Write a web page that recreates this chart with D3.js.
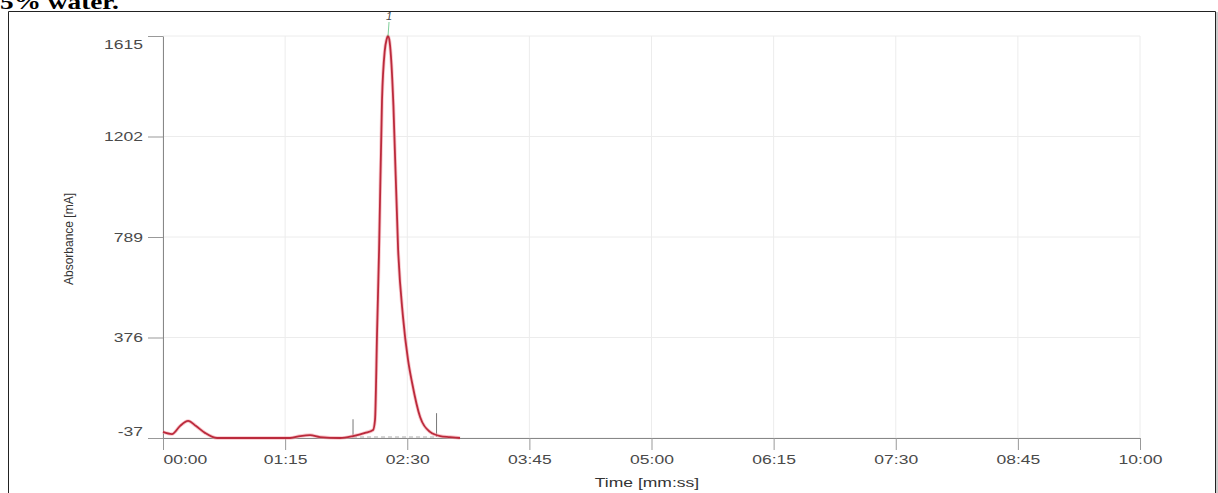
<!DOCTYPE html>
<html>
<head>
<meta charset="utf-8">
<script src="https://cdn.jsdelivr.net/npm/d3@7"></script>
<style>
  body { margin: 0; background: #fff; }
  svg { display: block; }
  .tick text { font-family: Arial, "Liberation Sans", sans-serif; font-size: 12.5px; fill: #4a4a4a; }
</style>
</head>
<body>
<div class="chart"></div>
<script>
// data (time in seconds, absorbance in mA)
var timeVals = [0, 5.5, 10.4, 15.4, 20.3, 25.8, 33.2, 78, 84.2, 90.3, 96.4, 108.7, 116.7, 124.1, 129, 130.2, 131.5, 132.7, 134.5, 136.2, 137.3, 138.2, 139.2, 140.3, 141.5, 144.4, 147.4, 150.5, 153, 157.9, 164, 170.2, 176.3, 182.4];
var absVals = [-12, -21, 12, 33, 12, -16, -37, -37, -29, -25, -33, -37, -29, -16, -4, 37, 407, 736, 1352, 1555, 1600, 1615, 1590, 1500, 1330, 736, 460, 283, 189, 49, -12, -29, -33, -37];
var xTickVals = [0, 75, 150, 225, 300, 375, 450, 525, 600];
var xTickLabels = ["00:00", "01:15", "02:30", "03:45", "05:00", "06:15", "07:30", "08:45", "10:00"];
var yTickVals = [-37, 376, 789, 1202, 1615];
var peakMarks = [116.7, 168];   // integration start / end
var peakTime = 138.2;
var peakLabel = "1";

var svgWidth = 1218;
var svgHeight = 493;
var margin = { top: 36, right: 78, bottom: 55, left: 163 };
var width = svgWidth - margin.left - margin.right;
var height = svgHeight - margin.top - margin.bottom;
var stretch = 1.4;   // the source picture is stretched sideways

// widen a text sideways around its anchor
function widen(sel, k) {
  sel.each(function() {
    var w = this.getComputedTextLength();
    d3.select(this)
      .attr("textLength", w * k)
      .attr("lengthAdjust", "spacingAndGlyphs");
  });
}

var svg = d3.select(".chart")
  .append("svg")
  .attr("width", svgWidth)
  .attr("height", svgHeight);

// caption text cut off at top of the page
svg.append("text")
  .attr("x", 0)
  .attr("y", 9)
  .style("font-family", "'Liberation Serif', 'Times New Roman', serif")
  .style("font-weight", "bold")
  .style("font-size", "21px")
  .text("5% water.")
  .call(widen, 1.3);

// frame
svg.append("path")
  .attr("d", "M8.5,493 V11.5 H1215.5 V493")
  .attr("fill", "none")
  .attr("stroke", "#222")
  .attr("stroke-width", 1);
svg.append("line")
  .attr("x1", 1217).attr("x2", 1217).attr("y1", 12).attr("y2", 493)
  .attr("stroke", "#ccc").attr("stroke-width", 2);

var chartGroup = svg.append("g")
  .attr("transform", `translate(${margin.left}, ${margin.top})`);

var xScale = d3.scaleLinear().domain([0, 600]).range([0, width]);
var yScale = d3.scaleLinear().domain([-37, 1615]).range([height, 0]);

// grid
chartGroup.append("g")
  .selectAll("line")
  .data(xTickVals)
  .enter()
  .append("line")
  .attr("x1", d => xScale(d)).attr("x2", d => xScale(d))
  .attr("y1", 0).attr("y2", height)
  .attr("stroke", "#ececec");
chartGroup.append("g")
  .selectAll("line")
  .data(yTickVals)
  .enter()
  .append("line")
  .attr("x1", 0).attr("x2", width)
  .attr("y1", d => yScale(d)).attr("y2", d => yScale(d))
  .attr("stroke", "#ececec");

// axes
var bottomAxis = d3.axisBottom(xScale)
  .tickValues(xTickVals)
  .tickFormat((d, i) => xTickLabels[i])
  .tickSize(12)
  .tickSizeOuter(0)
  .tickPadding(5);
var leftAxis = d3.axisLeft(yScale)
  .tickValues(yTickVals)
  .tickFormat(d => String(d))
  .tickSize(15)
  .tickSizeOuter(0)
  .tickPadding(5);

var xAxis = chartGroup.append("g")
  .attr("transform", `translate(0, ${height})`)
  .call(bottomAxis);
var yAxis = chartGroup.append("g")
  .call(leftAxis);

[xAxis, yAxis].forEach(function(ax) {
  ax.select(".domain").attr("stroke", "#888");
  ax.selectAll(".tick line").attr("stroke", "#999");
});
yAxis.selectAll(".tick text")
  .attr("dy", (d, i) => i === 0 ? "-0.2em" : (i === yTickVals.length - 1 ? "1.0em" : "0.32em"))
  .call(widen, stretch);
xAxis.selectAll(".tick text")
  .attr("text-anchor", (d, i) => i === 0 ? "start" : "middle")
  .call(widen, stretch);

// baseline + integration marks
chartGroup.append("line")
  .attr("x1", xScale(peakMarks[0])).attr("x2", xScale(peakMarks[1]))
  .attr("y1", yScale(-33)).attr("y2", yScale(-33))
  .attr("stroke", "#aaa").attr("stroke-dasharray", "4,3");
chartGroup.append("g")
  .selectAll("line")
  .data(peakMarks)
  .enter()
  .append("line")
  .attr("x1", d => xScale(d)).attr("x2", d => xScale(d))
  .attr("y1", yScale(-33)).attr("y2", (d, i) => yScale(i === 0 ? 40 : 65))
  .attr("stroke", "#777");

// chromatogram
var line = d3.line()
  .x((d, i) => xScale(timeVals[i]))
  .y(d => yScale(d))
  .curve(d3.curveMonotoneX);

chartGroup.append("path")
  .datum(absVals)
  .attr("d", line)
  .attr("fill", "none")
  .attr("stroke", "#f4a0a8")
  .attr("stroke-width", 3.5)
  .attr("opacity", 0.6);
chartGroup.append("path")
  .datum(absVals)
  .attr("d", line)
  .attr("fill", "none")
  .attr("stroke", "#bb2a3c")
  .attr("stroke-width", 1.8);

// peak label
chartGroup.append("line")
  .attr("x1", xScale(peakTime)).attr("x2", xScale(peakTime) + 1)
  .attr("y1", yScale(1615)).attr("y2", -14)
  .attr("stroke", "#7fcf9a");
chartGroup.append("text")
  .attr("x", xScale(peakTime) + 1)
  .attr("y", -16)
  .attr("text-anchor", "middle")
  .style("font-family", "Arial, sans-serif")
  .style("font-style", "italic")
  .style("font-size", "11px")
  .style("fill", "#444")
  .text(peakLabel);

// axis titles
chartGroup.append("text")
  .attr("transform", "rotate(-90)")
  .attr("x", 0 - 203)
  .attr("y", -90)
  .attr("text-anchor", "middle")
  .style("font-family", "Arial, sans-serif")
  .style("font-size", "12px")
  .style("fill", "#333")
  .text("Absorbance [mA]");

chartGroup.append("text")
  .attr("x", 647 - margin.left)
  .attr("y", height + 49)
  .attr("text-anchor", "middle")
  .style("font-family", "Arial, sans-serif")
  .style("font-size", "12.5px")
  .style("fill", "#333")
  .text("Time [mm:ss]")
  .call(widen, stretch);
</script>
</body>
</html>
